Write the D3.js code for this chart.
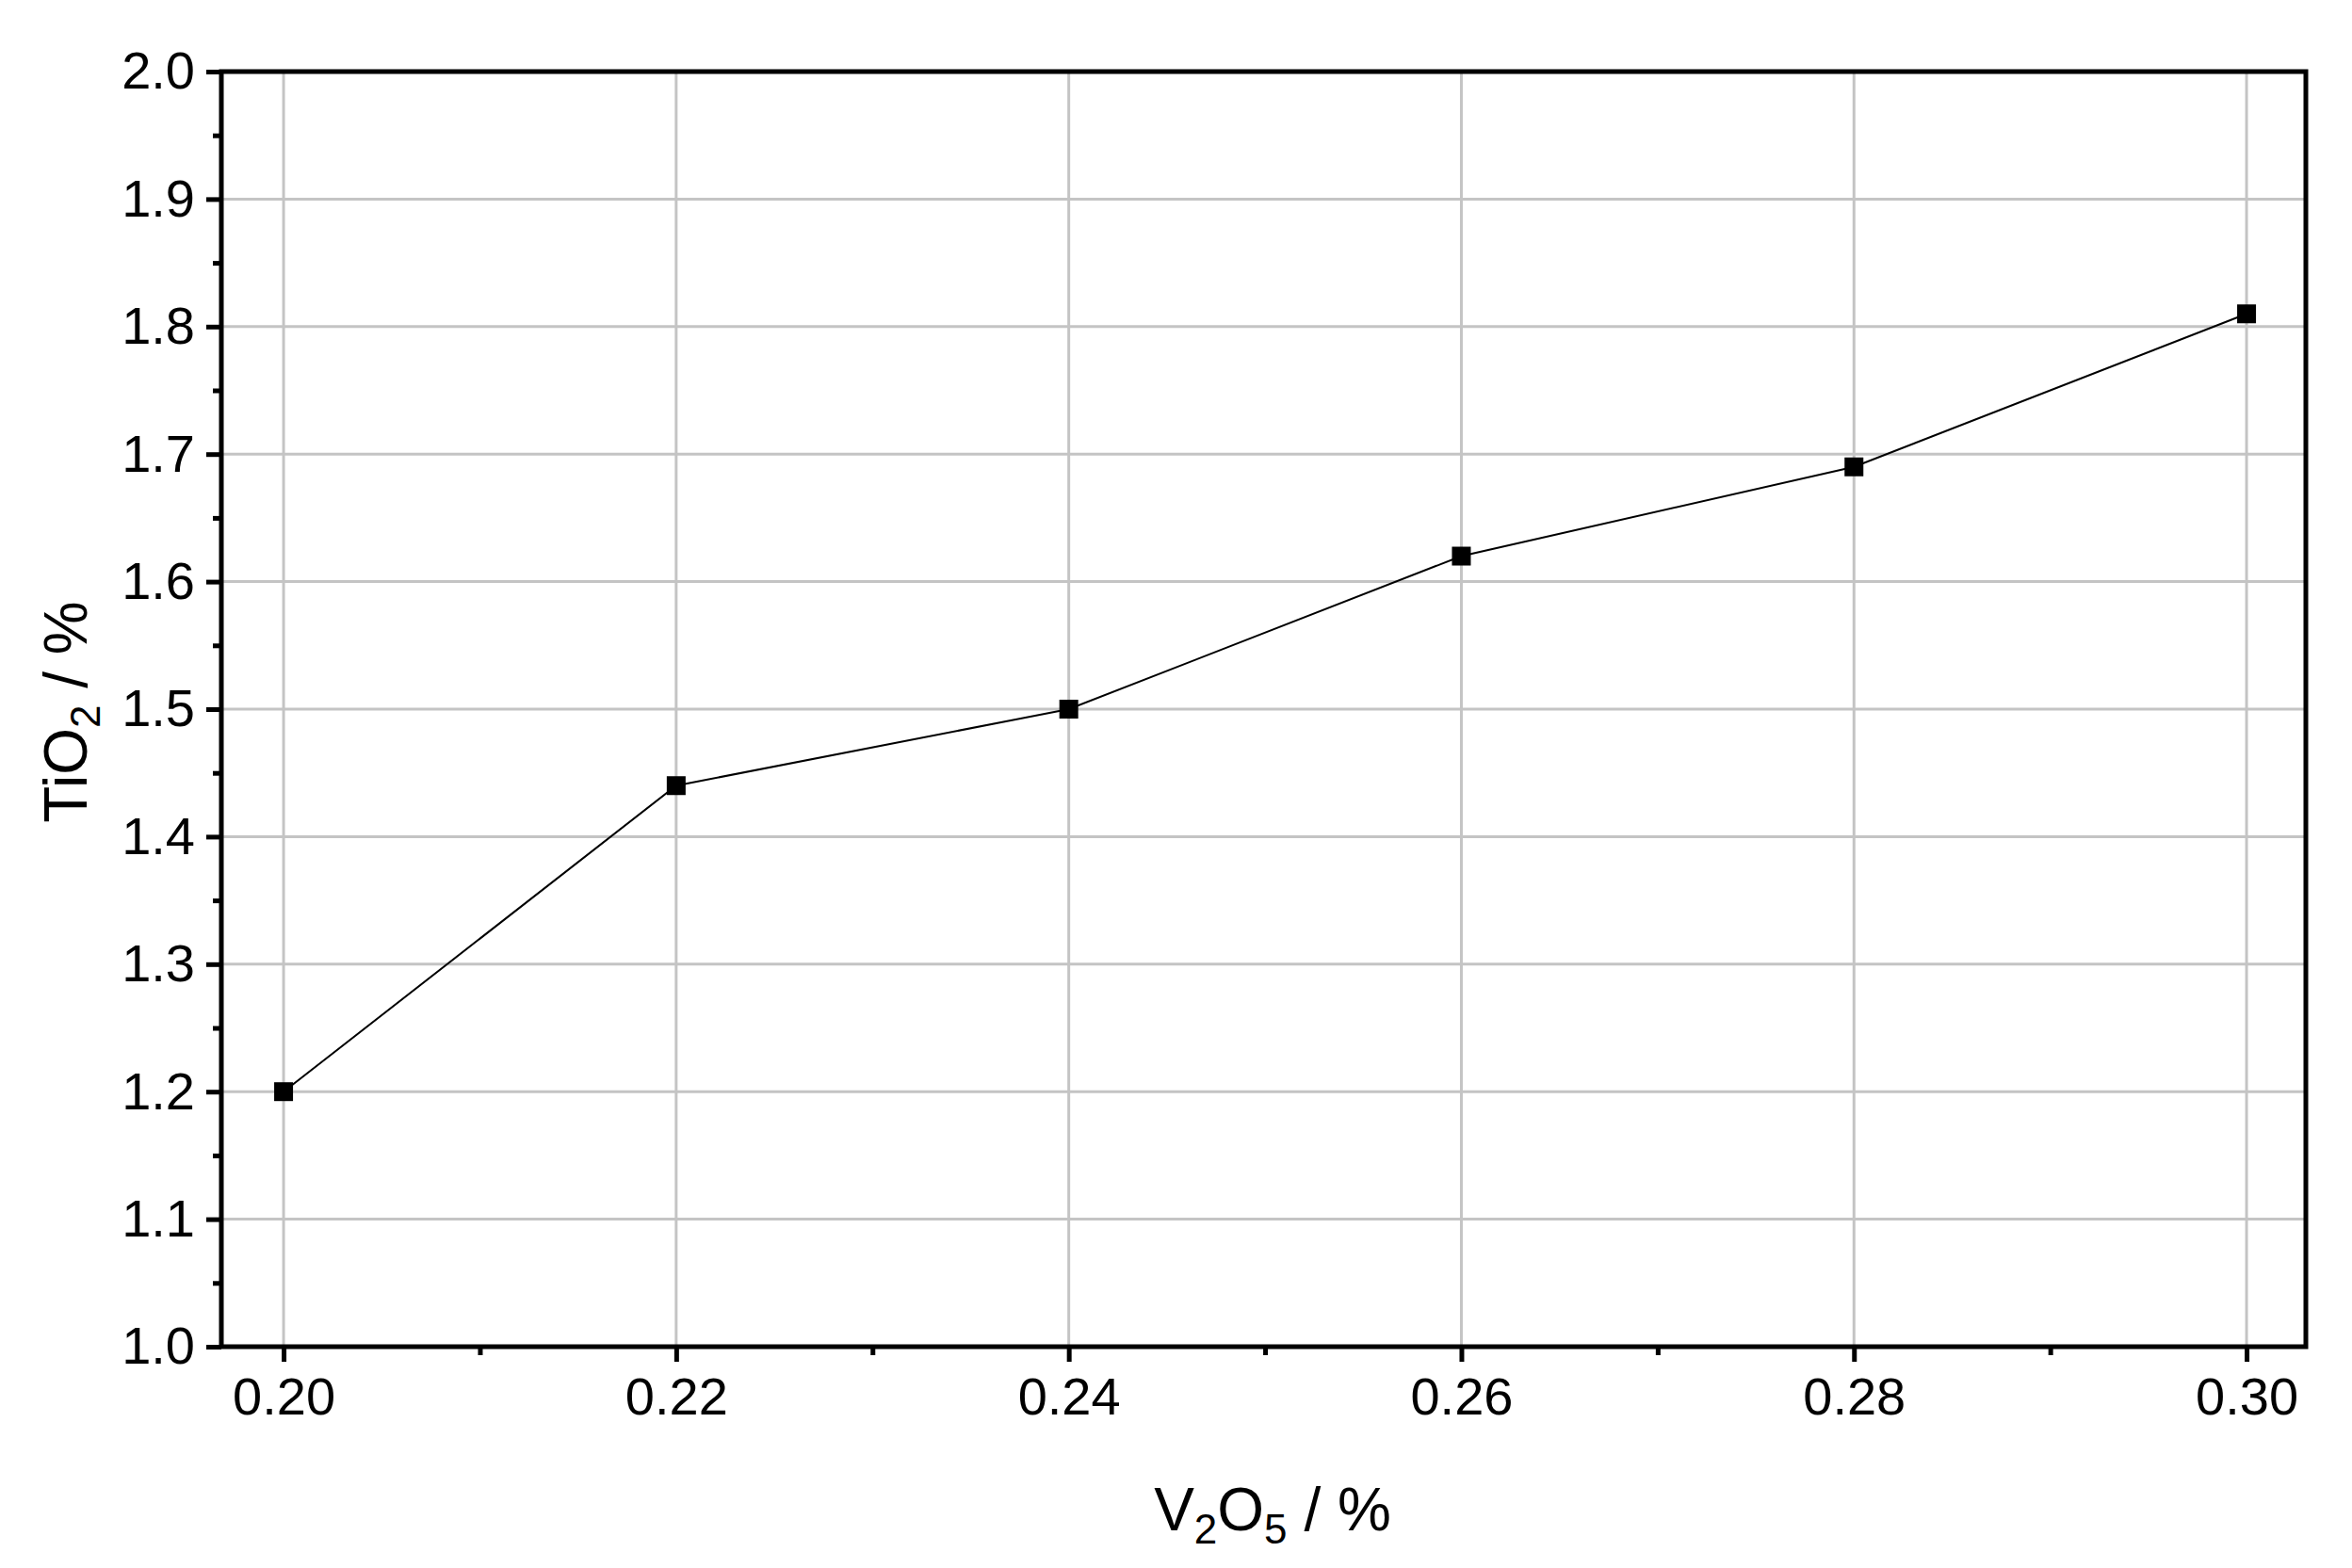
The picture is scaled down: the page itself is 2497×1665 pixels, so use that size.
<!DOCTYPE html>
<html><head><meta charset="utf-8">
<script src="https://cdn.jsdelivr.net/npm/d3@7"></script>
<style>body{margin:0;background:#fff}</style></head>
<body><svg id="c" width="2497" height="1665"></svg>
<script>
const xValues=[0.20,0.22,0.24,0.26,0.28,0.30];
const yValues=[1.20,1.44,1.50,1.62,1.69,1.81];
const xTicks=[0.20,0.22,0.24,0.26,0.28,0.30];
const yTicks=[1.0,1.1,1.2,1.3,1.4,1.5,1.6,1.7,1.8,1.9,2.0];
const L=235,R=2448,T=76,B=1430;
const svg=d3.select("#c");
const x=d3.scaleLinear().domain([0.19683,0.30302]).range([L,R]);
const y=d3.scaleLinear().domain([1,2]).range([B,T]);
const font="Arial, 'Liberation Sans', sans-serif";
svg.append("g").selectAll("line").data(xTicks).join("line")
 .attr("x1",d=>x(d)).attr("x2",d=>x(d)).attr("y1",T).attr("y2",B).attr("stroke","#c4c4c4").attr("stroke-width",3);
svg.append("g").selectAll("line").data(yTicks.slice(1,-1)).join("line")
 .attr("y1",d=>y(d)).attr("y2",d=>y(d)).attr("x1",L).attr("x2",R).attr("stroke","#c4c4c4").attr("stroke-width",3);
const xa=svg.append("g").attr("transform",`translate(0,${B})`)
 .call(d3.axisBottom(x).tickValues(xTicks).tickFormat(d3.format(".2f")).tickSize(16).tickPadding(16));
const xm=svg.append("g").attr("transform",`translate(0,${B})`)
 .call(d3.axisBottom(x).tickValues(d3.range(0,5).map(i=>0.21+0.02*i)).tickFormat("").tickSize(9));
const ya=svg.append("g").attr("transform",`translate(${L},0)`)
 .call(d3.axisLeft(y).tickValues(yTicks).tickFormat(d3.format(".1f")).tickSize(16).tickPadding(12));
const ym=svg.append("g").attr("transform",`translate(${L},0)`)
 .call(d3.axisLeft(y).tickValues(d3.range(0,10).map(i=>1.05+0.1*i)).tickFormat("").tickSize(9));
[xa,xm,ya,ym].forEach(g=>{g.select(".domain").remove();g.selectAll("line").attr("stroke","#000").attr("stroke-width",5);
 g.selectAll("text").attr("font-family",font).attr("font-size",56).attr("fill","#000");});
svg.append("rect").attr("x",L).attr("y",T).attr("width",R-L).attr("height",B-T).attr("fill","none").attr("stroke","#000").attr("stroke-width",5);
const pts=xValues.map((v,i)=>[v,yValues[i]]);
svg.append("path").datum(pts).attr("d",d3.line().x(d=>x(d[0])).y(d=>y(d[1]))).attr("fill","none").attr("stroke","#000").attr("stroke-width",2);
svg.append("g").selectAll("rect").data(pts).join("rect")
 .attr("x",d=>x(d[0])-10).attr("y",d=>y(d[1])-10).attr("width",20).attr("height",20).attr("fill","#000");
const xt=svg.append("text").attr("x",1351).attr("y",1625).attr("text-anchor","middle").attr("font-family",font).attr("font-size",64);
xt.append("tspan").text("V");xt.append("tspan").text("2").attr("font-size",44).attr("dy",14);
xt.append("tspan").text("O").attr("dy",-14);xt.append("tspan").text("5").attr("font-size",44).attr("dy",14);
xt.append("tspan").text(" / %").attr("dy",-14);
const yt=svg.append("text").attr("transform","translate(92,756) rotate(-90)").attr("text-anchor","middle").attr("font-family",font).attr("font-size",64);
yt.append("tspan").text("TiO");yt.append("tspan").text("2").attr("font-size",44).attr("dy",14);
yt.append("tspan").text(" / %").attr("dy",-14);
</script></body></html>
